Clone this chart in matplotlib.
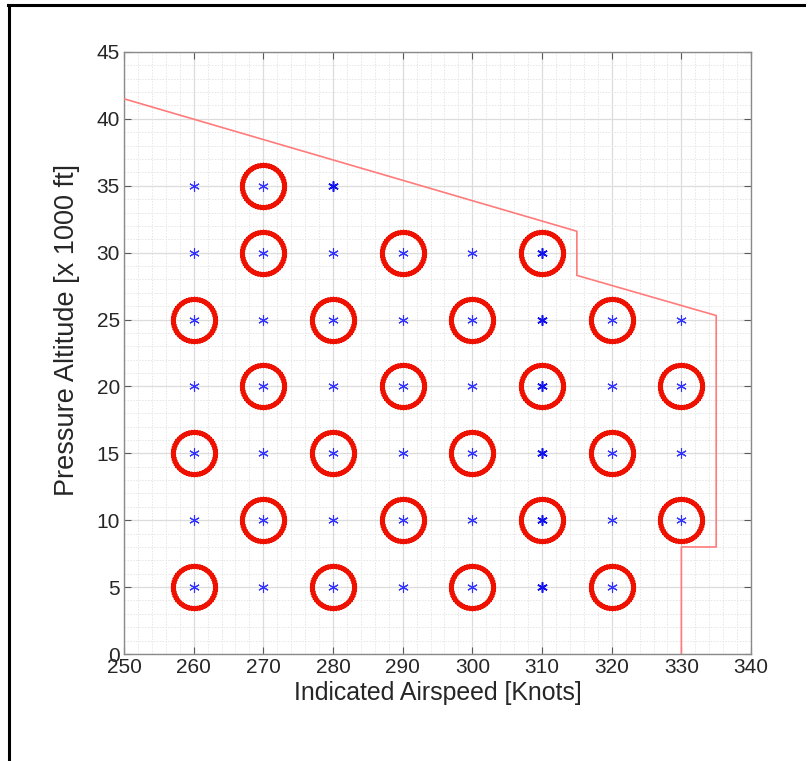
import matplotlib
matplotlib.use("Agg")
import matplotlib.pyplot as plt
import numpy as np
from matplotlib.lines import Line2D
from matplotlib.path import Path
from matplotlib.ticker import MultipleLocator

plt.rcParams['font.family'] = ['Liberation Sans', 'DejaVu Sans']

# test points (airspeed, altitude in 1000 ft)
test_ias = [260, 270, 280,
            260, 270, 280, 290, 300, 310,
            260, 270, 280, 290, 300, 310, 320, 330,
            260, 270, 280, 290, 300, 310, 320, 330,
            260, 270, 280, 290, 300, 310, 320, 330,
            260, 270, 280, 290, 300, 310, 320, 330,
            260, 270, 280, 290, 300, 310, 320]
test_alt = [35, 35, 35,
            30, 30, 30, 30, 30, 30,
            25, 25, 25, 25, 25, 25, 25, 25,
            20, 20, 20, 20, 20, 20, 20, 20,
            15, 15, 15, 15, 15, 15, 15, 15,
            10, 10, 10, 10, 10, 10, 10, 10,
            5, 5, 5, 5, 5, 5, 5]

# repeated points
rep_ias = [280, 310, 310, 310, 310, 310, 310]
rep_alt = [35, 30, 25, 20, 15, 10, 5]

# selected points
sel_ias = [270,
           270, 290, 310,
           260, 280, 300, 320,
           270, 290, 310, 330,
           260, 280, 300, 320,
           270, 290, 310, 330,
           260, 280, 300, 320]
sel_alt = [35,
           30, 30, 30,
           25, 25, 25, 25,
           20, 20, 20, 20,
           15, 15, 15, 15,
           10, 10, 10, 10,
           5, 5, 5, 5]

# flight envelope boundary
env_ias = [250, 315, 315, 335, 335, 330, 330]
env_alt = [41.5, 31.6, 28.3, 25.3, 8.0, 8.0, 0.0]


def asterisk_ring(n=48, r=1.0, s=0.12):
    # marker shape: a ring built from small asterisks
    verts, codes = [], []
    for t in np.linspace(0, 2 * np.pi, n, endpoint=False):
        cx, cy = r * np.cos(t), r * np.sin(t)
        for a in (0, np.pi / 3, 2 * np.pi / 3):
            dx, dy = s * np.cos(a), s * np.sin(a)
            verts += [(cx - dx, cy - dy), (cx + dx, cy + dy)]
            codes += [Path.MOVETO, Path.LINETO]
    return Path(verts, codes)


asterisk = (6, 2, 0)

fig = plt.figure(figsize=(8.08, 7.61), dpi=100)
ax = fig.add_axes([0.1535, 0.1406, 0.776, 0.7911])

ax.plot(env_ias, env_alt, color='#ff7b7b', lw=1.2, zorder=3)
ax.plot(sel_ias, sel_alt, ls='none', marker=asterisk_ring(), ms=34,
        mfc='none', mec='#ee1100', mew=2.0, zorder=4)
ax.plot(test_ias, test_alt, ls='none', marker=asterisk, ms=7.5, color='#3333ff',
        mew=0.8, zorder=5)
ax.plot(rep_ias, rep_alt, ls='none', marker=asterisk, ms=7.5, color='#1111ee',
        mew=1.1, zorder=5)

ax.set_xlim(250, 340)
ax.set_ylim(0, 45)
ax.xaxis.set_major_locator(MultipleLocator(10))
ax.yaxis.set_major_locator(MultipleLocator(5))
ax.xaxis.set_minor_locator(MultipleLocator(2))
ax.yaxis.set_minor_locator(MultipleLocator(1))
ax.grid(True, which='major', color='#dcdcdc', lw=0.9)
ax.grid(True, which='minor', color='#e6e6e6', lw=0.7, ls=(0, (1.5, 1.5)))
ax.set_axisbelow(True)

ax.tick_params(which='major', direction='in', length=5, width=0.8,
               top=True, right=True, labelsize=15, colors='#5a5a5a',
               labelcolor='#262626', pad=3)
ax.tick_params(which='minor', length=0)
for s in ax.spines.values():
    s.set_color('#8a8a8a')
    s.set_linewidth(1.0)

ax.set_xlabel('Indicated Airspeed [Knots]', fontsize=17.9, color='#262626', labelpad=3)
ax.set_ylabel('Pressure Altitude [x 1000 ft]', fontsize=19.5, color='#262626')
ax.yaxis.set_label_coords(-0.071, 0.538)

# outer frame edges
fig.add_artist(Line2D([8 / 808, 804 / 808], [1 - 5 / 761, 1 - 5 / 761],
                      transform=fig.transFigure, color='black', lw=2.2))
fig.add_artist(Line2D([9 / 808, 9 / 808], [0, 1 - 5 / 761],
                      transform=fig.transFigure, color='black', lw=2.2))

fig.savefig('out.png', dpi=100)
